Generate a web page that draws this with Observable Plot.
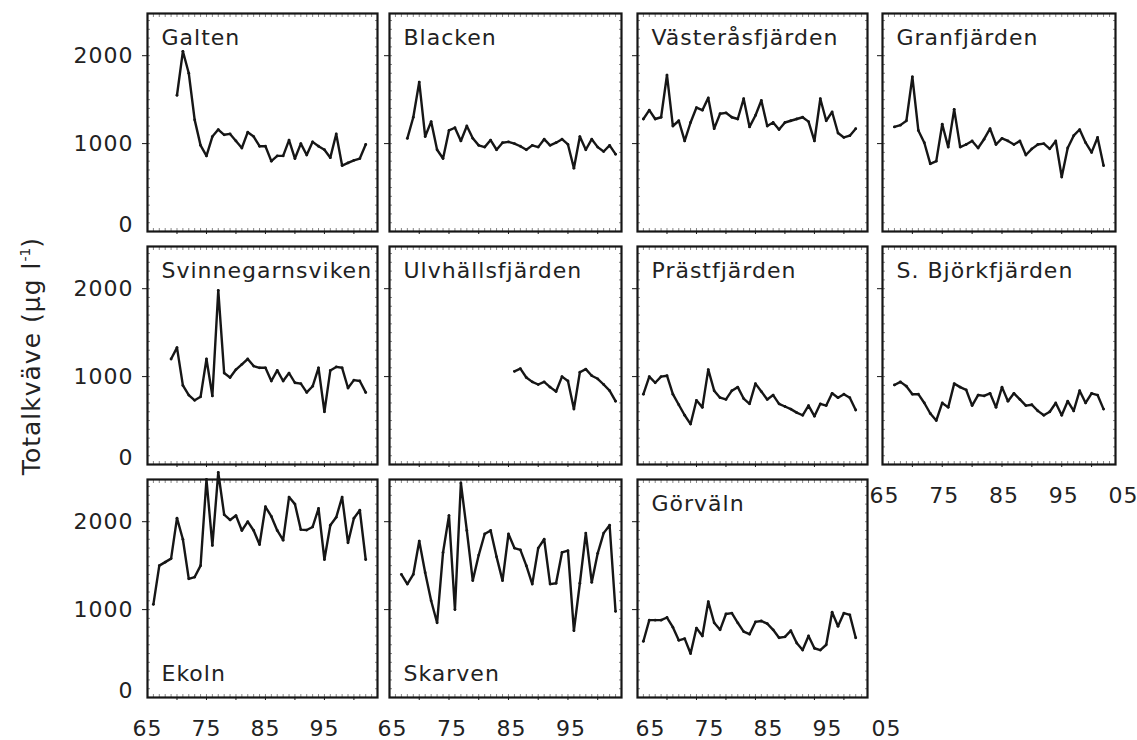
<!DOCTYPE html>
<html>
<head>
<meta charset="utf-8">
<script src="https://cdn.jsdelivr.net/npm/d3@7"></script>
<script src="https://cdn.jsdelivr.net/npm/@observablehq/plot@0.6"></script>
<style>
  body { margin: 0; background: #fff; }
  #chart { position: relative; width: 1137px; height: 740px; overflow: hidden; font-family: "DejaVu Sans", sans-serif; }
  #chart svg { position: absolute; }
  .ytitle {
    position: absolute; left: 31px; top: 356px;
    transform: translate(-50%, -50%) rotate(-90deg);
    white-space: nowrap; font-size: 25px; letter-spacing: 1px; color: #222;
  }
  .ytitle sup { font-size: 14px; vertical-align: 10px; letter-spacing: 0; }
</style>
</head>
<body>
<div id="chart"></div>
<script>
// Total nitrogen (µg/l), annual values per basin of Lake Mälaren
const lakes = ["Galten", "Blacken", "Västeråsfjärden", "Granfjärden",
  "Svinnegarnsviken", "Ulvhällsfjärden", "Prästfjärden", "S. Björkfjärden",
  "Ekoln", "Skarven", "Görväln"];
const firstYear = [1970, 1968, 1966, 1967, 1969, 1986, 1966, 1967, 1966, 1967, 1966];

const galten = [1550, 2050, 1800, 1270, 980, 860, 1080, 1160, 1100, 1110, 1030, 950, 1130, 1080, 970, 970, 800, 860, 860, 1040, 830, 1000, 870, 1020, 970, 930, 840, 1110, 750, 780, 810, 830, 990];
const blacken = [1060, 1300, 1700, 1080, 1250, 930, 830, 1150, 1180, 1030, 1200, 1060, 980, 960, 1040, 930, 1010, 1020, 1000, 970, 930, 980, 960, 1050, 980, 1010, 1050, 990, 720, 1080, 930, 1050, 960, 910, 980, 880];
const vasterasfjarden = [1280, 1380, 1280, 1300, 1780, 1200, 1260, 1030, 1240, 1410, 1380, 1520, 1170, 1340, 1350, 1300, 1280, 1510, 1190, 1320, 1490, 1200, 1240, 1160, 1240, 1260, 1280, 1300, 1250, 1030, 1510, 1260, 1360, 1120, 1070, 1090, 1170];
const granfjarden = [1190, 1210, 1260, 1760, 1150, 1010, 770, 800, 1220, 960, 1390, 960, 990, 1030, 950, 1050, 1170, 990, 1060, 1030, 990, 1030, 870, 940, 990, 1000, 940, 1030, 620, 950, 1090, 1160, 1010, 900, 1070, 750];
const svinnegarnsviken = [1200, 1330, 900, 790, 730, 770, 1200, 780, 1980, 1040, 990, 1080, 1140, 1200, 1120, 1100, 1100, 950, 1070, 950, 1040, 930, 920, 820, 890, 1100, 600, 1070, 1110, 1100, 870, 960, 950, 820];
const ulvhallsfjarden = [1060, 1090, 990, 940, 910, 940, 880, 830, 1000, 950, 630, 1050, 1085, 1010, 975, 910, 840, 720];
const prastfjarden = [800, 1000, 930, 1000, 1010, 800, 680, 560, 460, 730, 650, 1080, 840, 760, 740, 840, 880, 750, 690, 920, 830, 740, 790, 690, 660, 630, 590, 560, 670, 550, 690, 670, 810, 760, 800, 760, 620];
const bjorkfjarden = [905, 940, 890, 800, 800, 700, 580, 500, 700, 650, 920, 880, 850, 670, 790, 780, 810, 650, 880, 720, 810, 740, 670, 680, 610, 560, 600, 700, 560, 720, 610, 840, 700, 810, 790, 630];
const ekoln = [1060, 1500, 1540, 1580, 2040, 1800, 1350, 1370, 1500, 2480, 1730, 2560, 2080, 2020, 2070, 1900, 2000, 1900, 1740, 2170, 2060, 1900, 1790, 2280, 2200, 1910, 1905, 1940, 2150, 1570, 1960, 2050, 2280, 1760, 2040, 2130, 1570];
const skarven = [1400, 1290, 1400, 1780, 1420, 1100, 850, 1650, 2070, 1000, 2440, 1900, 1330, 1620, 1860, 1900, 1600, 1330, 1860, 1700, 1680, 1500, 1290, 1700, 1800, 1290, 1300, 1650, 1670, 760, 1300, 1870, 1310, 1640, 1870, 1960, 980];
const gorvaln = [640, 880, 880, 880, 910, 800, 650, 670, 500, 790, 700, 1090, 850, 770, 950, 960, 850, 750, 720, 860, 870, 840, 770, 680, 690, 760, 620, 540, 700, 560, 540, 600, 970, 810, 960, 940, 680];

const series = [galten, blacken, vasterasfjarden, granfjarden, svinnegarnsviken,
  ulvhallsfjarden, prastfjarden, bjorkfjarden, ekoln, skarven, gorvaln];

const yTicks = [0, 1000, 2000];
const xTicks = [1965, 1975, 1985, 1995, 2005];
const yTitle = "Totalkväve (µg l";

// Panel grid geometry (frame boxes)
const colLeft = [147, 389, 637, 882];
const colWidth = [230, 232, 230, 233];
const rowTop = [13, 246, 479];
const panelH = 218;
const M = {top: 14, right: 50, bottom: 50, left: 90};
const xShift = [0, 3, 13, 2];
const ink = "#161616";
const fontSize = 22;

const chart = document.getElementById("chart");
const yearLabel = d => String(d % 100).padStart(2, "0");
const plain = d3.format("d");

lakes.forEach((name, i) => {
  const col = i % 4, row = Math.floor(i / 4);
  const data = series[i].map((v, k) => ({year: firstYear[i] + k, value: v}));
  const nameAtBottom = name === "Ekoln" || name === "Skarven";
  const hasXLabels = i >= 7;
  const isLastInRow = i === 7 || i === 10;
  const xLabelYears = isLastInRow ? xTicks : xTicks.slice(0, -1);

  const marks = [
    // fine inner tick marks along all four edges
    Plot.axisX(d3.range(1966, 2004, 1), {anchor: "bottom", tickSize: -3, stroke: "#888", fill: "none"}),
    Plot.axisX(d3.range(1966, 2004, 1), {anchor: "top", tickSize: -3, stroke: "#888", fill: "none"}),
    Plot.axisY(d3.range(100, 2480, 100), {anchor: "left", tickSize: -3, stroke: "#888", fill: "none"}),
    Plot.axisY(d3.range(100, 2480, 100), {anchor: "right", tickSize: -3, stroke: "#888", fill: "none"}),
    // major ticks
    Plot.axisY(yTicks.slice(1), {anchor: "left", tickSize: 5, stroke: ink, fill: "none"}),
    Plot.axisX(d3.range(1970, 2004, 5), {anchor: "bottom", tickSize: 3, stroke: ink, fill: "none"}),
    Plot.frame({stroke: ink, strokeWidth: 2.2}),
    Plot.lineY(data, {x: "year", y: "value", stroke: ink, strokeWidth: 2.4, strokeLinejoin: "round"}),
    Plot.dot(data, {x: "year", y: "value", r: 1.4, fill: ink}),
    Plot.text([name], nameAtBottom
      ? {frameAnchor: "bottom-left", dx: 14, dy: -17, lineAnchor: "bottom", textAnchor: "start", fontSize, fill: "#222"}
      : {frameAnchor: "top-left", dx: 14, dy: 31, lineAnchor: "bottom", textAnchor: "start", fontSize, fill: "#222"})
  ];

  if (col === 0) {
    marks.push(
      Plot.axisY(yTicks.slice(1), {anchor: "left", tickSize: 0, tickPadding: 14, tickFormat: plain, fontSize, fill: "#222", label: null}),
      Plot.axisY(yTicks.slice(0, 1), {anchor: "left", tickSize: 0, tickPadding: 14, tickFormat: plain, dy: -7, fontSize, fill: "#222", label: null})
    );
  }
  if (hasXLabels) {
    marks.push(Plot.text(xLabelYears, {
      x: d => d, text: yearLabel, frameAnchor: "bottom", dy: 31, dx: xShift[col],
      lineAnchor: "middle", fontSize, fill: "#222"
    }));
  }

  const svg = Plot.plot({
    width: colWidth[col] + M.left + M.right,
    height: panelH + M.top + M.bottom,
    marginLeft: M.left, marginRight: M.right, marginTop: M.top, marginBottom: M.bottom,
    x: {domain: [1965, 2004]},
    y: {domain: [0, 2480]},
    style: {background: "transparent", overflow: "visible", fontFamily: "DejaVu Sans, sans-serif", letterSpacing: "1px", maxWidth: "none"},
    marks
  });
  svg.style.left = (colLeft[col] - M.left) + "px";
  svg.style.top = (rowTop[row] - M.top) + "px";
  chart.append(svg);
});

const title = document.createElement("div");
title.className = "ytitle";
title.innerHTML = `${yTitle}<sup>-1</sup>)`;
chart.append(title);
</script>
</body>
</html>
